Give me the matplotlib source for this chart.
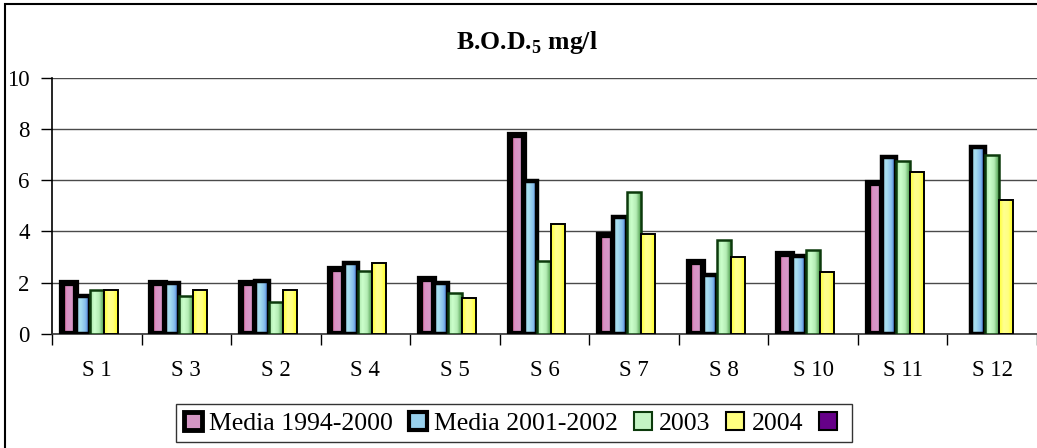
#!/usr/bin/env python3

import numpy as np
import matplotlib
matplotlib.use("Agg")
import matplotlib.pyplot as plt
from matplotlib.colors import LinearSegmentedColormap
from matplotlib.patches import Patch, Rectangle

plt.rcParams['font.family'] = ['Liberation Serif', 'DejaVu Serif']
plt.rcParams['mathtext.fontset'] = 'custom'
plt.rcParams['mathtext.rm'] = 'Liberation Serif:bold'
plt.rcParams['mathtext.bf'] = 'Liberation Serif:bold'

# Stations and BOD5 values (mg/l)
stations = ["S 1", "S 3", "S 2", "S 4", "S 5", "S 6", "S 7", "S 8", "S 10", "S 11", "S 12"]
media_1994_2000 = [2.0, 2.0, 2.0, 2.55, 2.15, 7.75, 3.85, 2.8, 3.1, 5.88, np.nan]
media_2001_2002 = [1.5, 2.0, 2.05, 2.75, 2.0, 5.95, 4.57, 2.3, 3.05, 6.9, 7.28]
anno_2003 = [1.7, 1.5, 1.25, 2.45, 1.6, 2.83, 5.55, 3.66, 3.28, 6.73, 6.98]
anno_2004 = [1.7, 1.7, 1.7, 2.75, 1.4, 4.27, 3.9, 3.0, 2.43, 6.3, 5.23]

series = [media_1994_2000, media_2001_2002, anno_2003, anno_2004]
labels = ["Media 1994-2000", "Media 2001-2002", "2003", "2004", ""]

# look of each series: gradient stops, edge colour, edge width
grads = [
    ["#e03c6c", "#d890c4", "#d898c8", "#d090c0"],
    ["#a0d8ec", "#a8e0f0", "#88c0ec", "#3464d4"],
    ["#a8e4a8", "#ccffcc", "#b4ecb4", "#4c9c4c"],
    ["#ffff30", "#ffff90", "#ffff80", "#ffff20"],
]
flat = ["#d496c4", "#98d0ec", "#c4f4c4", "#ffff80", "#660088"]
edges = ["black", "black", "#0c3a0c", "black"]
widths = [4.5, 3.2, 1.8, 1.4]

fig = plt.figure(figsize=(10.37, 4.48), dpi=100)
ax = fig.add_axes([0.0501, 0.2545, 0.9499, 0.5725])

x = np.arange(len(stations))
n_slots = 5
bw = 0.156
start = -bw * n_slots / 2

for i, vals in enumerate(series):
    cmap = LinearSegmentedColormap.from_list("g%d" % i, grads[i])
    bars = ax.bar(x + start + bw * (i + 0.5), vals, bw, facecolor="none",
                  edgecolor=edges[i], linewidth=widths[i], zorder=3 + i * 2 + 1)
    for b in bars:
        h = b.get_height()
        if not np.isfinite(h) or h <= 0:
            continue
        bx = b.get_x()
        im = ax.imshow(np.linspace(0, 1, 64).reshape(1, -1), cmap=cmap, aspect="auto",
                       extent=[bx, bx + b.get_width(), 0, h], zorder=3 + i * 2,
                       interpolation="bilinear")
        im.set_clip_path(b)

ax.set_xlim(-0.5, len(stations) - 0.5)
ax.set_ylim(0, 10)
ax.set_yticks([0, 2, 4, 6, 8, 10])
ax.yaxis.grid(True, color="#4a4a4a", linewidth=1.0, zorder=0)
ax.set_axisbelow(True)

# ticks between categories, labels in the middle
ax.set_xticks(np.arange(len(stations) + 1) - 0.5)
ax.set_xticklabels([])
ax.set_xticks(x, minor=True)
ax.set_xticklabels(stations, minor=True, fontsize=16.5)
ax.tick_params(axis="x", which="minor", length=0, pad=19)
ax.tick_params(axis="x", which="major", length=8, width=1, direction="out")
ax.tick_params(axis="y", length=8, width=1, pad=8, labelsize=16.5)

for s in ["top", "right"]:
    ax.spines[s].set_visible(False)
ax.spines["left"].set_linewidth(1.2)
ax.spines["bottom"].set_linewidth(1.2)
ax.spines["bottom"].set_color("#333333")

fig.text(0.508, 1 - 42 / 448, r"B.O.D.$_\mathbf{5}$ mg/l", ha="center", va="center",
         fontsize=18.5, fontweight="bold")

handles = [Patch(facecolor=flat[k], edgecolor=(edges + ["black"])[k],
                 linewidth=[3.5, 3.0, 1.5, 1.5, 1.5][k]) for k in range(5)]
fig.legend(handles, labels, loc="upper left", bbox_to_anchor=(176 / 1037, 1 - 404 / 448),
           ncol=5, fontsize=18.5, frameon=True, fancybox=False, edgecolor="black",
           handlelength=0.7, handleheight=0.7, handletextpad=0.3, columnspacing=0.6,
           borderpad=0.3, borderaxespad=0)

# outer chart border
fig.patches.append(Rectangle((5 / 1037, -0.1), 1.1, 1.1 - 4 / 448,
                             transform=fig.transFigure, fill=False,
                             edgecolor="black", linewidth=1.5))

fig.savefig("out.png", dpi=100)
